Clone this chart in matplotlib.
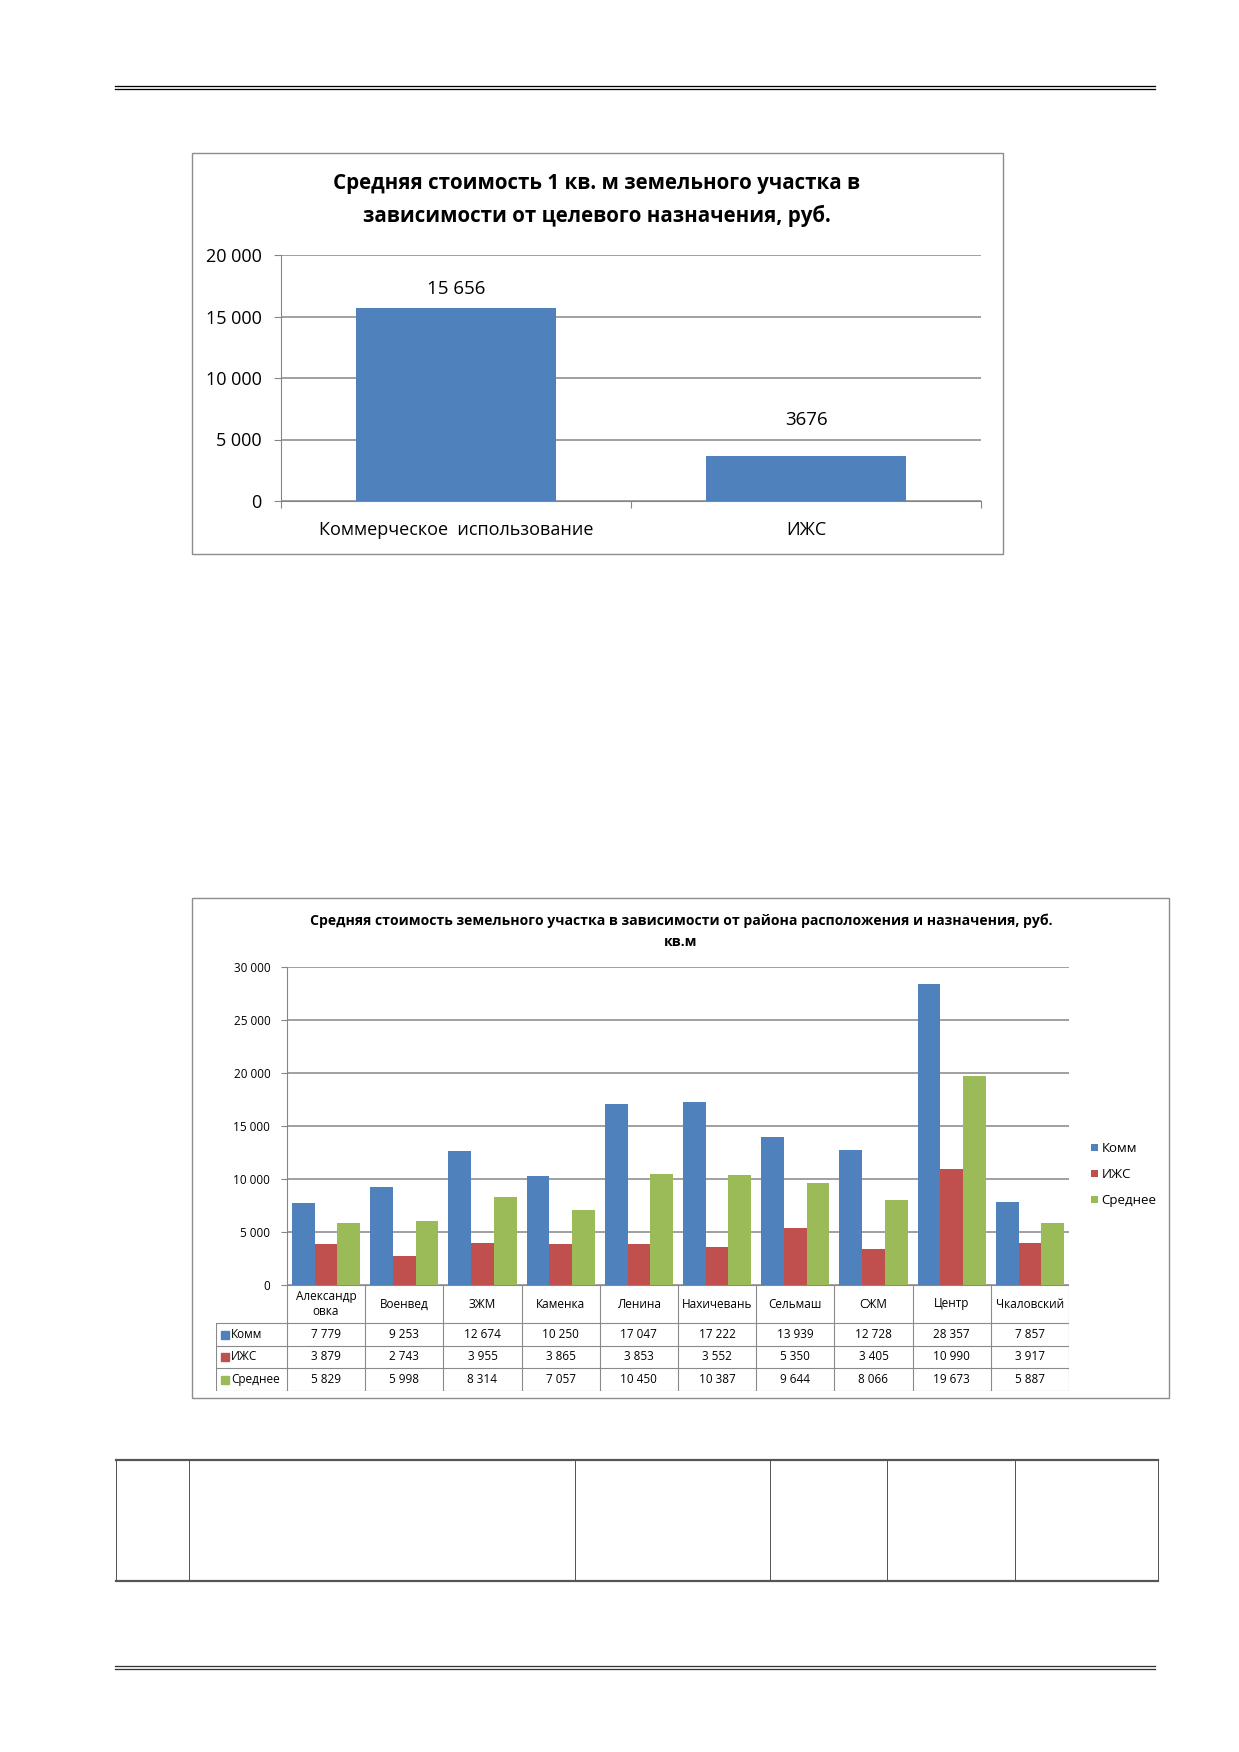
import numpy as np
import matplotlib.pyplot as plt
from matplotlib.transforms import Affine2D
from matplotlib.patches import Rectangle
from matplotlib.lines import Line2D

plt.rcParams['font.family'] = ['Open Sans', 'DejaVu Sans']

# --- data, chart 1
purposes = ['Коммерческое  использование', 'ИЖС']
purpose_price = [15656, 3676]
purpose_labels = ['15 656', '3676']

# --- data, chart 2
districts = ['Александр\nовка', 'Военвед', 'ЗЖМ', 'Каменка', 'Ленина',
             'Нахичевань', 'Сельмаш', 'СЖМ', 'Центр', 'Чкаловский']
series_names = ['Комм', 'ИЖС', 'Среднее']
komm = [7779, 9253, 12674, 10250, 17047, 17222, 13939, 12728, 28357, 7857]
izhs = [3879, 2743, 3955, 3865, 3853, 3552, 5350, 3405, 10990, 3917]
avg = [5829, 5998, 8314, 7057, 10450, 10387, 9644, 8066, 19673, 5887]

BLUE, RED, GREEN = '#4F81BD', '#C0504D', '#9BBB59'
GRID = '#868686'

W, H = 1239, 1752
fig = plt.figure(figsize=(W / 100, H / 100), dpi=100)
px = Affine2D().scale(1 / W, -1 / H).translate(0, 1) + fig.transFigure


def box(x0, y0, x1, y1):
    return [x0 / W, 1 - y1 / H, (x1 - x0) / W, (y1 - y0) / H]


def line(xs, ys, lw=1.0, c='k'):
    fig.add_artist(Line2D(xs, ys, transform=px, lw=lw * 0.72, color=c))


def fmt(v):
    return f'{v:,}'.replace(',', ' ')


# page rules
for y in (86, 89):
    line([115, 1155], [y, y], 1.3)
for y in (1666, 1669):
    line([115, 1155], [y, y], 1.3, '#333333')

# empty table at the bottom
line([116, 1158], [1460, 1460], 2.2, '#555555')
line([116, 1158], [1581, 1581], 2.2, '#555555')
for x in (116, 189, 575, 770, 887, 1015, 1158):
    line([x, x], [1460, 1581], 1.0, '#555555')

# ---------------- chart 1
fig.add_artist(Rectangle((192, 153), 811, 401, transform=px, fill=False,
                         ec='#8c8c8c', lw=1.0))
fig.text(597, 184, 'Средняя стоимость 1 кв. м земельного участка в',
         transform=px, ha='center', va='center', fontsize=14.8, fontweight='bold')
fig.text(597, 216, 'зависимости от целевого назначения, руб.',
         transform=px, ha='center', va='center', fontsize=14.8, fontweight='bold')

ax1 = fig.add_axes(box(281, 255, 981, 501))
x1 = np.arange(len(purposes))
bars1 = ax1.bar(x1, purpose_price, width=0.571, color=BLUE, zorder=3)
ax1.set_xlim(-0.5, len(purposes) - 0.5)
ax1.set_ylim(0, 20000)
ax1.set_yticks(np.arange(0, 20001, 5000))
ax1.set_yticklabels([fmt(v) for v in range(0, 20001, 5000)])
ax1.yaxis.grid(True, color=GRID, lw=1.1)
ax1.set_xticks(np.arange(-0.5, len(purposes)), [''] * (len(purposes) + 1))
ax1.set_xticks(x1, purposes, minor=True)
ax1.tick_params(axis='x', which='major', length=5, color=GRID)
ax1.tick_params(axis='x', which='minor', length=0, pad=14.5, labelsize=13)
ax1.tick_params(axis='y', length=5, color=GRID, pad=9, labelsize=13)
for s in ('top', 'right'):
    ax1.spines[s].set_visible(False)
for s in ('left', 'bottom'):
    ax1.spines[s].set_color(GRID)
for b, lab, off in zip(bars1, purpose_labels, [14, 26]):
    ax1.annotate(lab, (b.get_x() + b.get_width() / 2, b.get_height()),
                 xytext=(0, off), textcoords='offset points',
                 ha='center', va='center', fontsize=13.5)

# ---------------- chart 2
fig.add_artist(Rectangle((192, 898), 977, 500, transform=px, fill=False,
                         ec='#8c8c8c', lw=1.0))
fig.text(681, 921, 'Средняя стоимость земельного участка в зависимости от района расположения и назначения, руб.',
         transform=px, ha='center', va='center', fontsize=10.1, fontweight='bold')
fig.text(681, 942, 'кв.м', transform=px, ha='center', va='center',
         fontsize=10.1, fontweight='bold')

ax2 = fig.add_axes(box(287, 967, 1069, 1285))
x2 = np.arange(len(districts))
bw = 0.29
series = [komm, izhs, avg]
colors = [BLUE, RED, GREEN]
handles = []
for i, (vals, c, name) in enumerate(zip(series, colors, series_names)):
    handles.append(ax2.bar(x2 + (i - 1) * bw, vals, width=bw, color=c,
                           label=name, zorder=3))
ax2.set_xlim(-0.5, len(districts) - 0.5)
ax2.set_ylim(0, 30000)
ax2.set_yticks(np.arange(0, 30001, 5000))
ax2.set_yticklabels([fmt(v) for v in range(0, 30001, 5000)])
ax2.yaxis.grid(True, color=GRID, lw=1.1)
ax2.set_xticks([])
ax2.tick_params(axis='y', length=4, color=GRID, pad=8, labelsize=8.5)
for s in ('top', 'right', 'bottom'):
    ax2.spines[s].set_visible(False)
ax2.spines['left'].set_color(GRID)

leg = fig.legend(handles=handles, loc='upper left', bbox_to_anchor=(1091, 1142),
                 bbox_transform=px, frameon=False, fontsize=9.5,
                 handlelength=0.5, handleheight=0.5, handletextpad=0.3,
                 labelspacing=1.0, borderpad=0, borderaxespad=0)

# data table under chart 2
tab = fig.add_axes(box(216, 1285, 1069, 1391))
left = -0.5 - 71 / 78.2
tab.set_xlim(left, len(districts) - 0.5)
rows_y = [0, 38, 61, 83, 106]
tab.set_ylim(rows_y[-1], 0)
tab.axis('off')
tc = '#8a8a8a'
for k in range(len(districts) + 1):
    tab.plot([k - 0.5, k - 0.5], [rows_y[0], rows_y[-1]], color=tc, lw=0.8)
tab.plot([left, left], [rows_y[1], rows_y[-1]], color=tc, lw=0.8)
tab.plot([-0.5, len(districts) - 0.5], [0, 0], color=tc, lw=0.8)
for y in rows_y[1:]:
    tab.plot([left, len(districts) - 0.5], [y, y], color=tc, lw=0.8)
for i, d in enumerate(districts):
    tab.text(i, (rows_y[0] + rows_y[1]) / 2, d, ha='center', va='center',
             fontsize=8.5, linespacing=1.25)
for r, (vals, c, name) in enumerate(zip(series, colors, series_names)):
    yc = (rows_y[r + 1] + rows_y[r + 2]) / 2
    tab.plot([left + 9 / 78.2], [yc], marker='s', ms=5.2, color=c, lw=0)
    tab.text(left + 15 / 78.2, yc, name, ha='left', va='center', fontsize=8.5)
    for i, v in enumerate(vals):
        tab.text(i, yc, fmt(v), ha='center', va='center', fontsize=8.5)

fig.savefig('out.png', dpi=100, facecolor='white')
